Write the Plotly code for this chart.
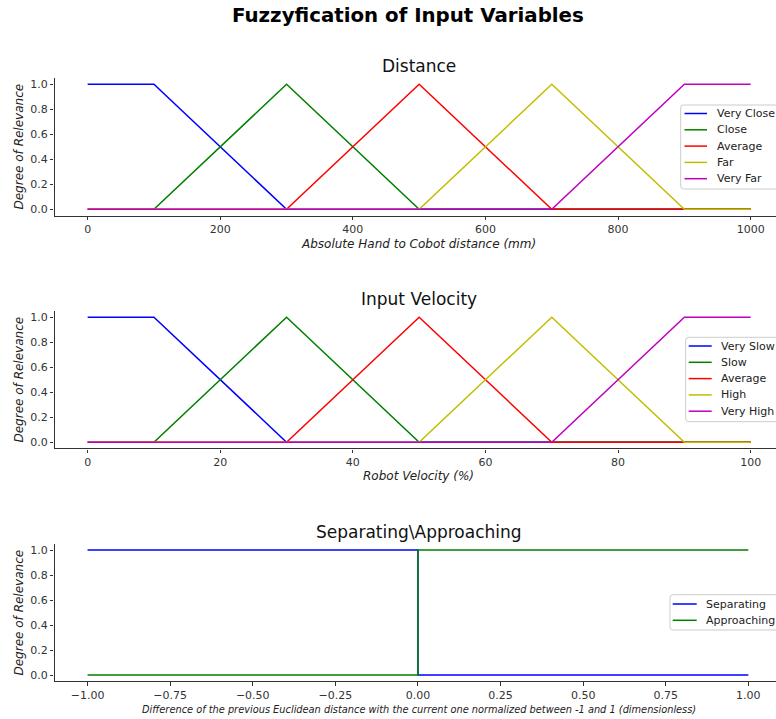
import plotly.graph_objects as go

# ---------------- data ----------------
# Distance membership functions (mm)
DIST_X = [0, 100, 300, 500, 700, 900, 1000]
dist_very_close = [1, 1, 0, 0, 0, 0, 0]
dist_close = [0, 0, 1, 0, 0, 0, 0]
dist_average = [0, 0, 0, 1, 0, 0, 0]
dist_far = [0, 0, 0, 0, 1, 0, 0]
dist_very_far = [0, 0, 0, 0, 0, 1, 1]
dist_labels = ["Very Close", "Close", "Average", "Far", "Very Far"]

# Input velocity membership functions (%)
VEL_X = [0, 10, 30, 50, 70, 90, 100]
vel_very_slow = [1, 1, 0, 0, 0, 0, 0]
vel_slow = [0, 0, 1, 0, 0, 0, 0]
vel_average = [0, 0, 0, 1, 0, 0, 0]
vel_high = [0, 0, 0, 0, 1, 0, 0]
vel_very_high = [0, 0, 0, 0, 0, 1, 1]
vel_labels = ["Very Slow", "Slow", "Average", "High", "Very High"]

# Separating / approaching (dimensionless, -1..1)
SEP_X = [-1, 0, 0, 1]
sep_separating = [1, 1, 0, 0]
sep_approaching = [0, 0, 1, 1]
sep_labels = ["Separating", "Approaching"]

dist_ticks = [0, 200, 400, 600, 800, 1000]
vel_ticks = [0, 20, 40, 60, 80, 100]
sep_ticks = [-1.0, -0.75, -0.5, -0.25, 0.0, 0.25, 0.5, 0.75, 1.0]
y_ticks = [0.0, 0.2, 0.4, 0.6, 0.8, 1.0]

COLORS5 = ["#0000ff", "#008000", "#ff0000", "#bfbf00", "#bf00bf"]
COLORS2 = ["#0000ff", "#008000"]

# ---------------- layout helpers ----------------
W, H = 776, 719
FONT = "DejaVu Sans"
AX_COLOR = "#333333"


def px(x):
    return x / W


def py(y):
    return 1 - y / H


fig = go.Figure()

dist_series = [dist_very_close, dist_close, dist_average, dist_far, dist_very_far]
vel_series = [vel_very_slow, vel_slow, vel_average, vel_high, vel_very_high]
sep_series = [sep_separating, sep_approaching]

for name, ys, c in zip(dist_labels, dist_series, COLORS5):
    fig.add_trace(go.Scatter(x=DIST_X, y=ys, mode="lines", name=name,
                             line=dict(color=c, width=1.5), showlegend=False,
                             xaxis="x", yaxis="y"))
for name, ys, c in zip(vel_labels, vel_series, COLORS5):
    fig.add_trace(go.Scatter(x=VEL_X, y=ys, mode="lines", name=name,
                             line=dict(color=c, width=1.5), showlegend=False,
                             xaxis="x2", yaxis="y2"))
for name, ys, c in zip(sep_labels, sep_series, COLORS2):
    fig.add_trace(go.Scatter(x=SEP_X, y=ys, mode="lines", name=name,
                             line=dict(color=c, width=1.5), showlegend=False,
                             xaxis="x3", yaxis="y3"))

x_dom = [px(54.5), 1.0]
y_doms = [[py(215.55), py(78.05)],
          [py(448.45), py(310.95)],
          [py(681.35), py(543.85)]]

tick_font = dict(family=FONT, size=11, color=AX_COLOR)


def xaxis_cfg(rng, ticks, fmt, anchor):
    return dict(domain=x_dom, range=rng, tickvals=ticks, tickformat=fmt,
                showline=True, linecolor=AX_COLOR, linewidth=1.2,
                ticks="outside", ticklen=3.5, tickwidth=1, tickcolor=AX_COLOR,
                showgrid=False, zeroline=False, tickfont=tick_font,
                anchor=anchor, fixedrange=True)


def yaxis_cfg(dom, anchor):
    return dict(domain=dom, range=[-0.05, 1.05], tickvals=y_ticks, tickformat=".1f",
                showline=True, linecolor=AX_COLOR, linewidth=1.2,
                ticks="outside", ticklen=3.5, tickwidth=1, tickcolor=AX_COLOR,
                showgrid=False, zeroline=False, tickfont=tick_font,
                anchor=anchor, fixedrange=True)


fig.update_layout(
    width=W, height=H,
    margin=dict(l=0, r=0, t=0, b=0),
    paper_bgcolor="white", plot_bgcolor="white",
    xaxis=xaxis_cfg([-50, 1038.2], dist_ticks, "d", "y"),
    yaxis=yaxis_cfg(y_doms[0], "x"),
    xaxis2=xaxis_cfg([-5, 103.82], vel_ticks, "d", "y2"),
    yaxis2=yaxis_cfg(y_doms[1], "x2"),
    xaxis3=xaxis_cfg([-1.1, 1.0837], sep_ticks, ".2f", "y3"),
    yaxis3=yaxis_cfg(y_doms[2], "x3"),
    showlegend=False,
)

annotations = []


def text(x, y, s, size, italic=False, bold=False, angle=0, color="#111111",
         xanchor="center"):
    annotations.append(dict(
        x=px(x), y=py(y), xref="paper", yref="paper", text=s, showarrow=False,
        xanchor=xanchor, yanchor="middle", textangle=angle,
        font=dict(family=FONT, size=size, color=color,
                  style="italic" if italic else "normal",
                  weight="bold" if bold else "normal")))


# figure and subplot titles
text(408, 16, "Fuzzyfication of Input Variables", 19.8, bold=True, color="#000000")
text(419, 66, "Distance", 17)
text(419, 299, "Input Velocity", 17)
text(419, 532, "Separating\\Approaching", 17)

# axis labels
text(418, 244, "Absolute Hand to Cobot distance (mm)", 12, italic=True, color="#222222")
text(418, 476, "Robot Velocity (%)", 12, italic=True, color="#222222")
text(418.5, 709,
     "Difference of the previous Euclidean distance with the current one "
     "normalized between -1 and 1 (dimensionless)", 9.8, italic=True, color="#222222")
for yc in (147, 380, 613):
    text(18.5, yc, "Degree of Relevance", 12, italic=True, angle=-90, color="#222222")

shapes = []


def rounded_box(x0, y0, x1, y1, r=3):
    X0, X1 = px(x0), px(x1)
    Y0, Y1 = py(y0), py(y1)
    rx, ry = r / W, r / H
    path = (f"M {X0 + rx},{Y0} L {X1 - rx},{Y0} Q {X1},{Y0} {X1},{Y0 - ry} "
            f"L {X1},{Y1 + ry} Q {X1},{Y1} {X1 - rx},{Y1} L {X0 + rx},{Y1} "
            f"Q {X0},{Y1} {X0},{Y1 + ry} L {X0},{Y0 - ry} Q {X0},{Y0} {X0 + rx},{Y0} Z")
    shapes.append(dict(type="path", path=path, xref="paper", yref="paper",
                       line=dict(color="#cccccc", width=1),
                       fillcolor="rgba(255,255,255,0.85)", layer="above"))


def legend(labels, colors, box, sw_x0, sw_x1, text_x, y_first, step=16.3):
    rounded_box(*box)
    for i, (lab, c) in enumerate(zip(labels, colors)):
        yy = y_first + i * step
        shapes.append(dict(type="line", xref="paper", yref="paper",
                           x0=px(sw_x0), x1=px(sw_x1), y0=py(yy), y1=py(yy),
                           line=dict(color=c, width=1.5), layer="above"))
        text(text_x, yy, lab, 11, color="#222222", xanchor="left")


legend(dist_labels, COLORS5, (680.7, 105, 790, 189), 684.5, 707, 714.5, 113.5)
legend(vel_labels, COLORS5, (685.7, 337.3, 790, 421.7), 688.7, 711.7, 718.5, 346)
legend(sep_labels, COLORS2, (670, 594.7, 790, 630), 672.7, 696.7, 704, 604)

fig.update_layout(annotations=annotations, shapes=shapes)

fig.write_html("out.html")
